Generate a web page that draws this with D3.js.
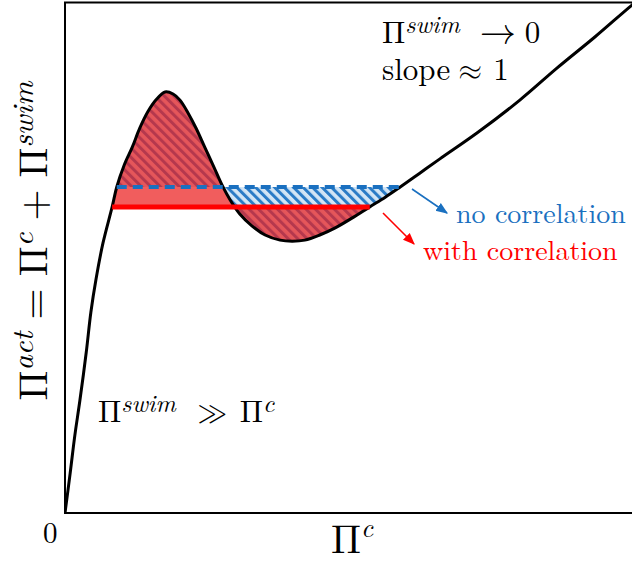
<!DOCTYPE html>
<html>
<head>
<meta charset="utf-8">
<script src="https://cdn.jsdelivr.net/npm/d3@7"></script>
<style>
  html, body { margin: 0; padding: 0; background: #fff; }
  svg { display: block; }
</style>
</head>
<body>
<svg id="chart" width="632" height="561"></svg>
<script>
// Schematic active pressure curve: Π_act versus Π_c (arbitrary units)
const piC   = [0, 0.09, 0.17, 0.26, 0.37, 0.45, 0.54, 0.66, 0.82, 0.90, 1.03, 1.17, 1.30, 1.44, 1.58, 1.74,
               1.88, 2.00, 2.14, 2.28, 2.43, 2.59, 2.73, 2.87, 3.04, 3.25, 3.48, 3.74, 3.95,
               4.17, 4.43, 4.70, 4.99, 5.30, 5.57, 5.83, 6.17, 6.52, 7.17, 7.91, 8.56, 9.22, 9.86, 10.10];
const piAct = [0, 0.78, 1.51, 2.21, 3.15, 3.93, 4.58, 5.28, 5.99, 6.38, 6.81, 7.16, 7.53, 7.85, 8.08, 8.24,
               8.20, 8.08, 7.83, 7.53, 7.16, 6.77, 6.42, 6.13, 5.85, 5.62, 5.44, 5.34, 5.32,
               5.34, 5.44, 5.58, 5.77, 5.99, 6.18, 6.38, 6.65, 6.93, 7.44, 8.08, 8.71, 9.32, 9.94, 10.15];

// Coexistence levels of the equal-area construction
const levelNames  = ["no correlation", "with correlation"];
const levelValues = [6.38, 5.99];

const W = 632, H = 561;
const plot = { left: 65, right: 645, top: 2.5, bottom: 513 };
const serif = '"Latin Modern Roman", "Liberation Serif", serif';
const symFont = '"Latin Modern Math", "FreeSerif", "Latin Modern Roman", serif';

const svg = d3.select("#chart");
const x = d3.scaleLinear().domain([0, 10]).range([plot.left, 640]);
const y = d3.scaleLinear().domain([0, 10]).range([plot.bottom, 2]);

const pts = piC.map((v, i) => [v, piAct[i]]);

// first and last crossings of a horizontal level
function crossings(level) {
  const xs = [];
  for (let i = 0; i < pts.length - 1; i++) {
    const [x0, y0] = pts[i], [x1, y1] = pts[i + 1];
    if ((y0 - level) * (y1 - level) <= 0 && y0 !== y1) {
      xs.push(x0 + (level - y0) / (y1 - y0) * (x1 - x0));
    }
  }
  return [xs[0], xs[xs.length - 1]];
}

const defs = svg.append("defs");
defs.append("clipPath").attr("id", "plotClip")
  .append("rect")
  .attr("x", plot.left).attr("y", plot.top)
  .attr("width", plot.right - plot.left).attr("height", plot.bottom - plot.top);

const blue = "#1a70c0";
const red = "#ff0000";

// diagonal hatch for the no-correlation regions
const pat = defs.append("pattern")
  .attr("id", "hatchBlue")
  .attr("patternUnits", "userSpaceOnUse")
  .attr("width", 6.7).attr("height", 6.7)
  .attr("patternTransform", "rotate(-45)");
pat.append("rect").attr("width", 6.7).attr("height", 6.7).attr("fill", "#d3e5f5");
pat.append("rect").attr("width", 3.0).attr("height", 6.7).attr("fill", "#2a7bc6");

const smooth = d3.curveCatmullRom.alpha(0.5);
const lineGen = d3.line().x(d => x(d[0])).y(d => y(d[1])).curve(smooth);
const areaGen = level => d3.area()
  .x(d => x(d[0])).y0(y(level)).y1(d => y(d[1]))
  .curve(smooth);

const g = svg.append("g").attr("clip-path", "url(#plotClip)");

// equal-area regions, one per level
const fills = [
  { fill: "url(#hatchBlue)", opacity: 1 },
  { fill: "#eb1e1e", opacity: 0.72 }
];
levelValues.forEach((lv, i) => {
  const [xa, xb] = crossings(lv);
  const cid = "band" + i;
  defs.append("clipPath").attr("id", cid)
    .append("rect")
    .attr("x", x(xa)).attr("y", 0)
    .attr("width", x(xb) - x(xa)).attr("height", H);
  g.append("path")
    .datum(pts)
    .attr("clip-path", `url(#${cid})`)
    .attr("d", areaGen(lv))
    .attr("fill", fills[i].fill)
    .attr("fill-opacity", fills[i].opacity);
});

// the curve itself
g.append("path")
  .datum(pts)
  .attr("d", lineGen)
  .attr("fill", "none")
  .attr("stroke", "#000")
  .attr("stroke-width", 3);

// horizontal tie lines
{
  const [xa, xb] = crossings(levelValues[1]);
  g.append("line")
    .attr("x1", x(xa)).attr("x2", x(xb))
    .attr("y1", y(levelValues[1])).attr("y2", y(levelValues[1]))
    .attr("stroke", red).attr("stroke-width", 5);
}
{
  const [xa, xb] = crossings(levelValues[0]);
  g.append("line")
    .attr("x1", x(xa)).attr("x2", x(xb))
    .attr("y1", y(levelValues[0])).attr("y2", y(levelValues[0]))
    .attr("stroke", blue).attr("stroke-width", 4)
    .attr("stroke-dasharray", "10,6");
}

// frame
svg.append("rect")
  .attr("x", plot.left).attr("y", plot.top)
  .attr("width", plot.right - plot.left).attr("height", plot.bottom - plot.top)
  .attr("fill", "none").attr("stroke", "#000").attr("stroke-width", 2);

// arrows pointing to the legend texts
function arrowMarker(id, color) {
  defs.append("marker")
    .attr("id", id)
    .attr("viewBox", "0 0 10 10")
    .attr("refX", 9).attr("refY", 5)
    .attr("markerUnits", "userSpaceOnUse")
    .attr("markerWidth", 12).attr("markerHeight", 12)
    .attr("orient", "auto")
    .append("path").attr("d", "M0,1 L10,5 L0,9 Z").attr("fill", color);
}
arrowMarker("arrBlue", blue);
arrowMarker("arrRed", red);

svg.append("line")
  .attr("x1", 412).attr("y1", 189).attr("x2", 447).attr("y2", 213)
  .attr("stroke", blue).attr("stroke-width", 1.6)
  .attr("marker-end", "url(#arrBlue)");
svg.append("line")
  .attr("x1", 383).attr("y1", 213).attr("x2", 414).attr("y2", 244)
  .attr("stroke", red).attr("stroke-width", 1.6)
  .attr("marker-end", "url(#arrRed)");

svg.append("text")
  .attr("x", 456).attr("y", 223)
  .style("font-family", serif)
  .attr("font-size", 28).attr("fill", blue)
  .text(levelNames[0]);
svg.append("text")
  .attr("x", 423).attr("y", 260)
  .style("font-family", serif)
  .attr("font-size", 28).attr("fill", red)
  .text(levelNames[1]);

// math-style text: parts are {t, sup, sym, dx, fs}
function mathText(sel, parts, size, supScale, raise) {
  const t = sel.style("font-family", serif);
  let raised = false;
  parts.forEach(p => {
    const ts = t.append("tspan").text(p.t);
    if (p.sup) {
      ts.attr("font-style", "italic").attr("font-size", size * supScale);
      if (!raised) { ts.attr("dy", -size * raise); raised = true; }
    } else {
      ts.attr("font-size", p.fs || size);
      if (raised) { ts.attr("dy", size * raise); raised = false; }
      if (p.dx) ts.attr("dx", p.dx);
    }
    if (p.sym) ts.style("font-family", symFont);
  });
  return t;
}

mathText(svg.append("text").attr("x", 382).attr("y", 43),
  [{ t: "Π" }, { t: "swim", sup: true }, { t: "→", sym: true, dx: 20, fs: 36 }, { t: "0", dx: 9 }],
  31, 0.8, 0.33);
mathText(svg.append("text").attr("x", 382).attr("y", 80),
  [{ t: "slope" }, { t: "≈", sym: true, dx: 8 }, { t: "1", dx: 11 }],
  31, 0.8, 0.33);

mathText(svg.append("text").attr("x", 98).attr("y", 422),
  [{ t: "Π" }, { t: "swim", sup: true }, { t: "≫", sym: true, dx: 21 },
   { t: "Π", dx: 12 }, { t: "c", sup: true }],
  31, 0.8, 0.33);

// axis labels
svg.append("text").attr("x", 43).attr("y", 543)
  .style("font-family", serif).attr("font-size", 29).text("0");
mathText(svg.append("text").attr("x", 331).attr("y", 553),
  [{ t: "Π" }, { t: "c", sup: true }],
  40, 0.66, 0.4);

mathText(svg.append("text")
    .attr("transform", "translate(47,241) rotate(-90)")
    .attr("text-anchor", "middle"),
  [{ t: "Π" }, { t: "act", sup: true }, { t: "=", dx: 12 }, { t: "Π", dx: 12 },
   { t: "c", sup: true }, { t: "+", dx: 12 }, { t: "Π", dx: 12 }, { t: "swim", sup: true }],
  40, 0.75, 0.34);
</script>
</body>
</html>
